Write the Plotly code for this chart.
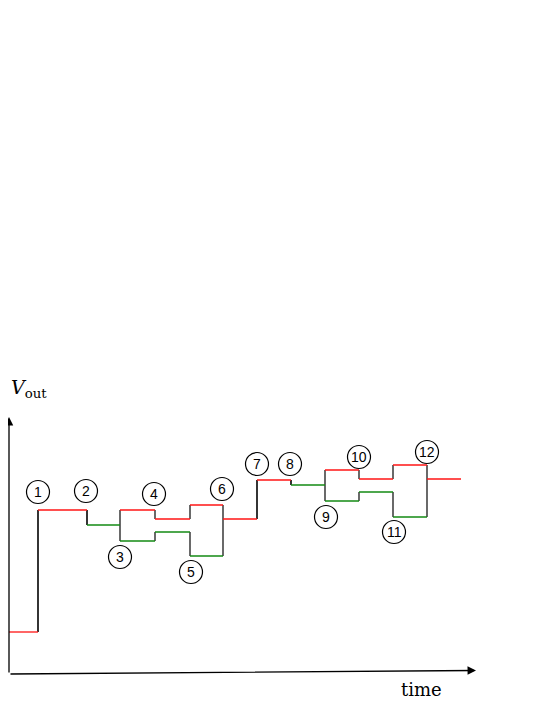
import plotly.graph_objects as go

# time instants where the output steps (arbitrary units)
t_edges = [2, 31, 80, 113, 148, 183, 216, 250, 284, 318, 352, 386, 420, 454]
# output level in each interval: upper and lower branch (equal when there is no branch)
v_upper = [42, 164, 149, 164, 155, 169, 155, 194, 189, 204, 195, 209, 195]
v_lower = [42, 164, 149, 133, 142, 118, 155, 194, 189, 173, 182, 157, 195]
green_single = [2, 8]

# circled step labels
label_text = ["1", "2", "3", "4", "5", "6", "7", "8", "9", "10", "11", "12"]
label_t = [31, 79, 113, 147, 184, 215, 250, 283, 319, 352, 387, 420]
label_v = [182, 183, 117, 180, 102, 185, 210, 210, 157, 217, 142, 222]

RED = "#ff1414"
GREEN = "#138a13"
BLACK = "#1a1a1a"

red_x, red_y = [], []
green_x, green_y = [], []
blk_x, blk_y = [], []

for i in range(len(v_upper)):
    x0, x1 = t_edges[i], t_edges[i + 1]
    if v_upper[i] == v_lower[i]:
        if i in green_single:
            green_x += [x0, x1, None]
            green_y += [v_upper[i], v_upper[i], None]
        else:
            red_x += [x0, x1, None]
            red_y += [v_upper[i], v_upper[i], None]
    else:
        red_x += [x0, x1, None]
        red_y += [v_upper[i], v_upper[i], None]
        green_x += [x0, x1, None]
        green_y += [v_lower[i], v_lower[i], None]

for i in range(1, len(v_upper)):
    t = t_edges[i]
    for a, b in [(v_upper[i - 1], v_upper[i]), (v_lower[i - 1], v_lower[i])]:
        if a != b:
            blk_x += [t, t, None]
            blk_y += [a, b, None]

fig = go.Figure()
fig.add_trace(go.Scatter(x=blk_x, y=blk_y, mode="lines",
                         line={"color": BLACK, "width": 1.3}, hoverinfo="skip"))
fig.add_trace(go.Scatter(x=red_x, y=red_y, mode="lines",
                         line={"color": RED, "width": 1.3}, hoverinfo="skip"))
fig.add_trace(go.Scatter(x=green_x, y=green_y, mode="lines",
                         line={"color": GREEN, "width": 1.3}, hoverinfo="skip"))

r = 11.5
shapes = []
annotations = []
for txt, t, v in zip(label_text, label_t, label_v):
    shapes.append({
        "type": "circle", "xref": "x", "yref": "y",
        "x0": t - r, "x1": t + r, "y0": v - r, "y1": v + r,
        "line": {"color": "black", "width": 1.2},
    })
    annotations.append({
        "x": t, "y": v, "xref": "x", "yref": "y", "text": txt,
        "showarrow": False, "font": {"family": "Liberation Sans", "size": 14, "color": "black"},
    })

# axes drawn as arrows
annotations.append({
    "x": 2, "y": 257, "ax": 2, "ay": 0, "xref": "x", "yref": "y",
    "axref": "x", "ayref": "y", "text": "", "showarrow": True,
    "arrowhead": 2, "arrowsize": 1.3, "arrowwidth": 1.3, "arrowcolor": "black",
})
annotations.append({
    "x": 469, "y": 3.5, "ax": 2, "ay": 0, "xref": "x", "yref": "y",
    "axref": "x", "ayref": "y", "text": "", "showarrow": True,
    "arrowhead": 2, "arrowsize": 1.3, "arrowwidth": 1.3, "arrowcolor": "black",
})
annotations.append({
    "x": 1.5, "y": 286, "xref": "x", "yref": "y", "xanchor": "left",
    "text": "<i>V</i><sub>out</sub>", "showarrow": False,
    "font": {"family": "DejaVu Serif", "size": 19, "color": "black"},
})
annotations.append({
    "x": 414.5, "y": -15, "xref": "x", "yref": "y",
    "text": "time", "showarrow": False,
    "font": {"family": "DejaVu Serif", "size": 18, "color": "black"},
})

# the page body adds an 8px margin, so the figure is 8px smaller than the window
fig.update_layout(
    width=537, height=697,
    margin={"l": 0, "r": 0, "t": 0, "b": 0},
    paper_bgcolor="white", plot_bgcolor="white",
    showlegend=False,
    xaxis={"range": [1, 538], "visible": False, "fixedrange": True},
    yaxis={"range": [-31, 666], "visible": False, "fixedrange": True},
    shapes=shapes,
    annotations=annotations,
)

fig.write_html("out.html")
